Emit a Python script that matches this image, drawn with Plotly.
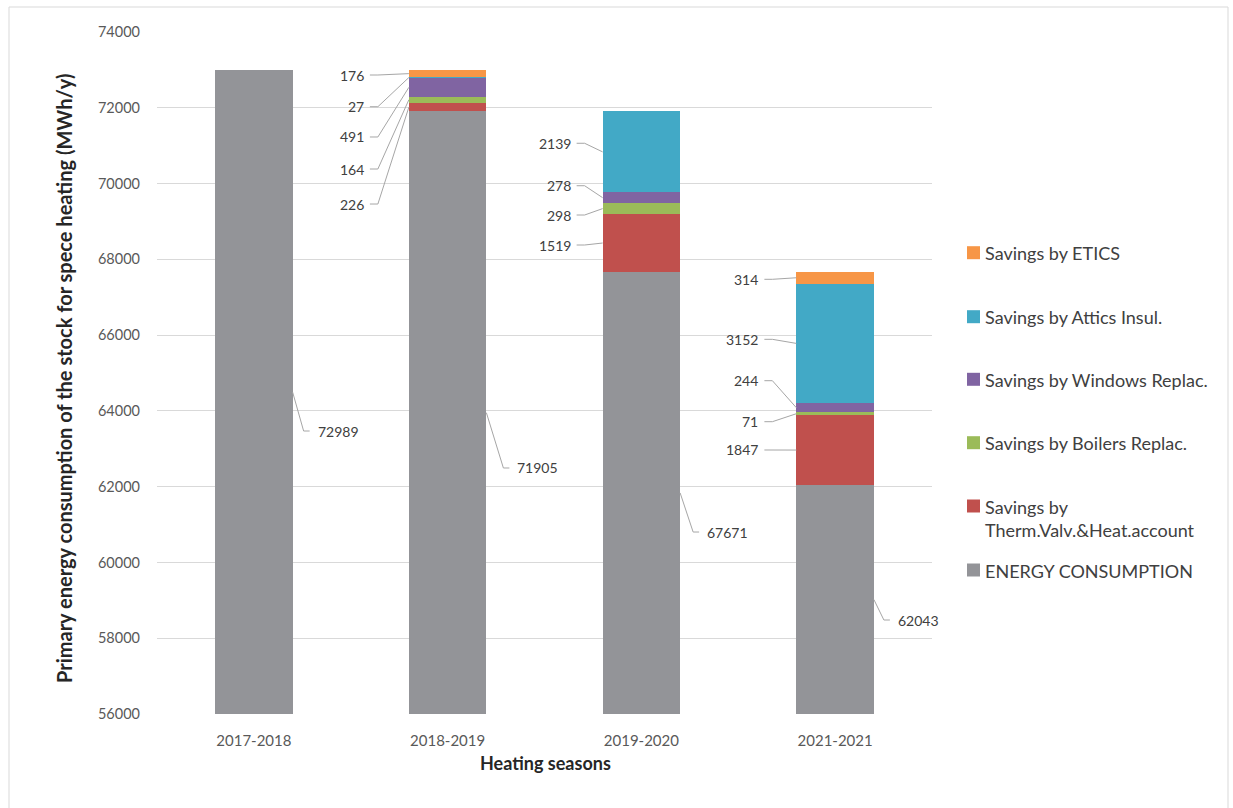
import plotly.graph_objects as go

# Heating seasons and the stacked components (MWh/y)
seasons = ["2017-2018", "2018-2019", "2019-2020", "2021-2021"]
energy_consumption = [72989, 71905, 67671, 62043]
savings_therm_valv = [0, 226, 1519, 1847]
savings_boilers = [0, 164, 298, 71]
savings_windows = [0, 491, 278, 244]
savings_attics = [0, 27, 2139, 3152]
savings_etics = [0, 176, 0, 314]

y_ticks = [56000, 58000, 60000, 62000, 64000, 66000, 68000, 70000, 72000, 74000]

# Stack order from the bottom up
series = [
    ("ENERGY CONSUMPTION", energy_consumption, "#939498"),
    ("Savings by<br>Therm.Valv.&Heat.account", savings_therm_valv, "#C0504D"),
    ("Savings by Boilers Replac.", savings_boilers, "#9BBB59"),
    ("Savings by Windows Replac.", savings_windows, "#8064A2"),
    ("Savings by Attics Insul.", savings_attics, "#42A9C6"),
    ("Savings by ETICS", savings_etics, "#F79646"),
]

# Where the data labels sit (value-axis units), one entry per savings layer
savings_label_y = {
    1: [69460, 70384, 71229, 72028, 72865],
    2: [68378, 69170, 69943, 71063, None],
    3: [62968, 63715, 64797, 65889, 67473],
}
savings_label_gap_px = {1: 43, 2: 30, 3: 36}
energy_label_y = [63469, 62493, 60803, 58481]
energy_leader_dx_px = [11, 17, 13, 10]

# Plot-area geometry
L, R, T, B = 157, 301, 32, 94
W, H = 1233, 808
plot_w = W - L - R
plot_h = H - T - B
x_range = [-0.5, 3.5]
y_range = [56000, 74000]
px_x = (x_range[1] - x_range[0]) / plot_w
bar_w = 0.4

FONT = "Lato, Open Sans, sans-serif"
label_font = dict(family=FONT, size=14, color="#404040")
leader_color = "#a6a6a6"

fig = go.Figure()
xs = list(range(len(seasons)))
for name, values, color in series:
    fig.add_trace(go.Bar(
        x=xs, y=values, name=name.replace("<br>", " "), width=bar_w,
        marker=dict(color=color, line=dict(width=0)),
        showlegend=False, hoverinfo="y+name",
    ))

annotations = []
shapes = []

# Leader lines and labels for savings layers (left side of each bar)
for i, ys in savings_label_y.items():
    base = energy_consumption[i]
    layers = [savings_therm_valv[i], savings_boilers[i], savings_windows[i],
              savings_attics[i], savings_etics[i]]
    x_bar = i - bar_w / 2
    x_text = x_bar - savings_label_gap_px[i] * px_x
    bottom = base
    for val, yl in zip(layers, ys):
        if val and yl is not None:
            y_mid = bottom + val / 2
            fig.add_trace(go.Scatter(
                x=[x_text + 4 * px_x, x_text + 12 * px_x, x_bar],
                y=[yl, yl, y_mid], mode="lines",
                line=dict(color=leader_color, width=1),
                showlegend=False, hoverinfo="skip",
            ))
            annotations.append(dict(
                x=x_text, y=yl, xref="x", yref="y", text=str(val),
                showarrow=False, xanchor="right", yanchor="middle",
                font=label_font,
            ))
        bottom += val

# Leader lines and labels for energy consumption (right side of each bar)
for i, val in enumerate(energy_consumption):
    x_bar = i + bar_w / 2
    y_mid = y_range[0] + (val - y_range[0]) / 2
    yl = energy_label_y[i]
    x1 = x_bar + energy_leader_dx_px[i] * px_x
    fig.add_trace(go.Scatter(
        x=[x_bar, x1, x1 + 6 * px_x], y=[y_mid, yl, yl], mode="lines",
        line=dict(color=leader_color, width=1),
        showlegend=False, hoverinfo="skip",
    ))
    annotations.append(dict(
        x=x1 + 12 * px_x, y=yl, xref="x", yref="y", text=str(val),
        showarrow=False, xanchor="left", yanchor="middle", font=label_font,
    ))

# Legend drawn as squares and text to the right of the plot
legend_items = list(reversed(series))
legend_y_px = [252.7, 316.7, 379.3, 442.7, 506, 570]
def to_paper_x(px):
    return (px - L) / plot_w
def to_paper_y(py):
    return (H - B - py) / plot_h
for (name, _, color), py in zip(legend_items, legend_y_px):
    shapes.append(dict(
        type="rect", xref="paper", yref="paper",
        x0=to_paper_x(967), x1=to_paper_x(980),
        y0=to_paper_y(py + 6.5), y1=to_paper_y(py - 6.5),
        fillcolor=color, line=dict(width=0),
    ))
    annotations.append(dict(
        x=to_paper_x(983), y=to_paper_y(py - 12.5), xref="paper", yref="paper",
        text=name, showarrow=False, xanchor="left", yanchor="top", align="left",
        font=dict(family=FONT, size=18, color="#404040"),
    ))

# Axis titles
annotations.append(dict(
    x=to_paper_x(64), y=to_paper_y(379), xref="paper", yref="paper",
    text="<b>Primary energy consumption of the stock for spece heating (MWh/y)</b>",
    textangle=-90, showarrow=False, xanchor="center", yanchor="middle",
    font=dict(family=FONT, size=20, color="#262626"),
))
annotations.append(dict(
    x=to_paper_x(545), y=to_paper_y(763), xref="paper", yref="paper",
    text="<b>Heating seasons</b>", showarrow=False,
    xanchor="center", yanchor="middle",
    font=dict(family=FONT, size=18, color="#262626"),
))

# Outer frame
shapes.append(dict(
    type="rect", xref="paper", yref="paper",
    x0=to_paper_x(9), x1=to_paper_x(1228),
    y0=to_paper_y(830), y1=to_paper_y(7),
    line=dict(color="#d9d9d9", width=1), fillcolor="rgba(0,0,0,0)", layer="below",
))

fig.update_layout(
    barmode="stack",
    width=W, height=H,
    margin=dict(l=L, r=R, t=T, b=B, pad=0),
    plot_bgcolor="white", paper_bgcolor="white",
    annotations=annotations, shapes=shapes,
    showlegend=False,
    xaxis=dict(
        range=x_range, tickmode="array", tickvals=xs, ticktext=seasons,
        showgrid=False, zeroline=False, showline=False, ticks="",
        ticklabelstandoff=16,
        tickfont=dict(family=FONT, size=15, color="#595959"),
    ),
    yaxis=dict(
        range=y_range, tickmode="array", tickvals=y_ticks, tickformat="d",
        showgrid=True, gridcolor="#d9d9d9", gridwidth=1,
        zeroline=False, showline=False, ticks="",
        ticklabelstandoff=16,
        tickfont=dict(family=FONT, size=14.5, color="#595959"),
    ),
)

fig.write_html("out.html")
